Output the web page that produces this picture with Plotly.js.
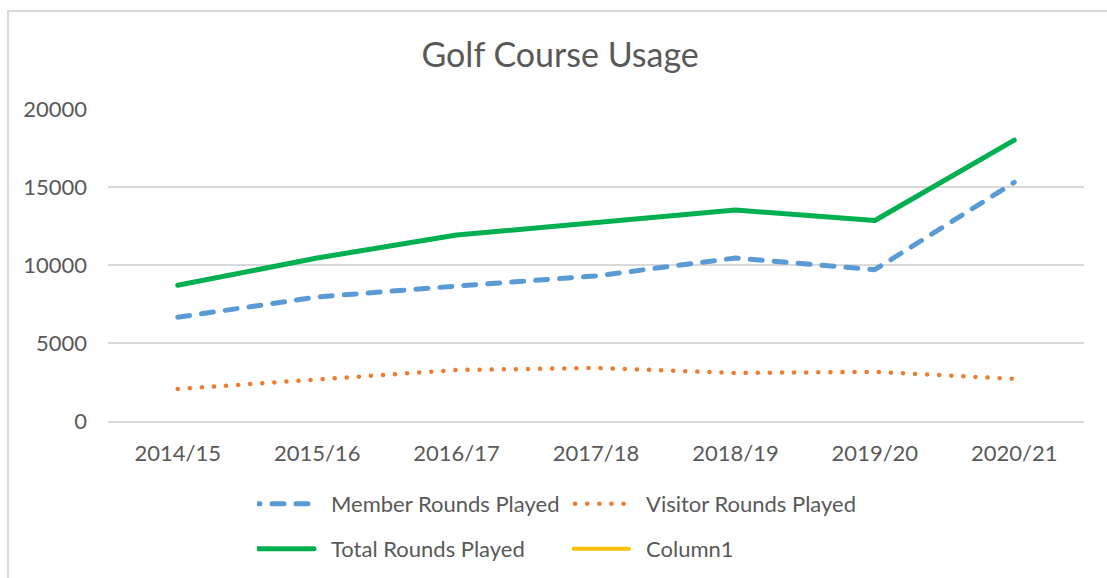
<!DOCTYPE html>
<html>
<head>
<meta charset="utf-8">
<script src="https://cdn.plot.ly/plotly-3.0.1.min.js"></script>
<style>
  html, body { margin: 0; padding: 0; background: #ffffff; overflow: hidden; }
  #wrap { position: relative; width: 1107px; height: 578px; }
  #chart { position: absolute; left: 0; top: 0; width: 1107px; height: 578px; }
  #frame { position: absolute; left: 7px; top: 10px; width: 1120px; height: 600px;
           border-left: 2px solid #d9d9d9; border-top: 2px solid #d9d9d9; pointer-events: none; }
  #chart .js-line { stroke-linecap: round; stroke-linejoin: round; }
</style>
</head>
<body>
<div id="wrap">
  <div id="chart"></div>
  <div id="frame"></div>
</div>
<script>
const seasons = ["2014/15", "2015/16", "2016/17", "2017/18", "2018/19", "2019/20", "2020/21"];
const memberRounds = [6650, 7950, 8650, 9300, 10450, 9700, 15300];
const visitorRounds = [2050, 2630, 3270, 3400, 3080, 3150, 2700];
const totalRounds = [8700, 10450, 11920, 12700, 13520, 12850, 18000];
const column1 = [null, null, null, null, null, null, null];
const yTicks = [0, 5000, 10000, 15000, 20000];

const FONT = "Lato, 'Open Sans', sans-serif";
const TXT = "#595959";

const traces = [
  { name: "Member Rounds Played", x: seasons, y: memberRounds, type: "scatter", mode: "lines",
    line: { color: "#5B9BD5", width: 5, dash: "12px,12px" }, legend: "legend" },
  { name: "Visitor Rounds Played", x: seasons, y: visitorRounds, type: "scatter", mode: "lines",
    line: { color: "#ED7D31", width: 4.5, dash: "0.1px,12px" }, legend: "legend2" },
  { name: "Total Rounds Played", x: seasons, y: totalRounds, type: "scatter", mode: "lines",
    line: { color: "#00B050", width: 5 }, legend: "legend3" },
  { name: "Column1", x: seasons, y: column1, type: "scatter", mode: "lines",
    line: { color: "#FFC000", width: 4 }, legend: "legend4" }
];

function legendAt(px, py) {
  return {
    orientation: "h", xref: "container", yref: "container",
    xanchor: "left", yanchor: "middle",
    x: px / 1107, y: 1 - py / 578,
    itemwidth: 64,
    font: { family: FONT, size: 22, color: TXT },
    bgcolor: "rgba(0,0,0,0)"
  };
}

const layout = {
  width: 1107, height: 578,
  margin: { l: 108, r: 23, t: 109, b: 157 },
  paper_bgcolor: "#ffffff", plot_bgcolor: "#ffffff",
  font: { family: FONT, color: TXT },
  title: { text: "Golf Course Usage", xref: "container", x: 0.506, xanchor: "center",
           yref: "container", y: 0.905, yanchor: "middle",
           font: { family: FONT, size: 34, color: TXT } },
  xaxis: { type: "category", range: [-0.5, 6.5], showgrid: false, zeroline: false,
           showline: true, linecolor: "#d9d9d9", linewidth: 1.5,
           ticks: "", tickfont: { family: FONT, size: 22, color: TXT }, ticklabelstandoff: 12,
           fixedrange: true },
  yaxis: { range: [0, 20000], tickvals: yTicks, ticktext: yTicks.map(String),
           showgrid: true, gridcolor: "#d9d9d9", gridwidth: 1.5, zeroline: false,
           showline: false, ticks: "", tickfont: { family: FONT, size: 22, color: TXT },
           ticklabelstandoff: 20, fixedrange: true },
  legend: legendAt(257, 504),
  legend2: legendAt(572, 504),
  legend3: legendAt(257, 549),
  legend4: legendAt(572, 549),
  showlegend: true
};

function styleLegendKeys() {
  // Excel-style legend keys: longer line samples ending a little before the label
  document.querySelectorAll("#chart .legendlines path").forEach(function (p) {
    if (p.dataset.done) return;
    const bb = p.getBBox();
    const c = bb.x + bb.width / 2;
    p.setAttribute("d", "M" + (c - 46) + ",0h66");
    p.dataset.done = "1";
  });
}

const gdEl = document.getElementById("chart");
Plotly.newPlot(gdEl, traces, layout, { staticPlot: true, displayModeBar: false }).then(function (gd) {
  styleLegendKeys();
  gd.on("plotly_afterplot", styleLegendKeys);
  setTimeout(styleLegendKeys, 50);
});
</script>
</body>
</html>
